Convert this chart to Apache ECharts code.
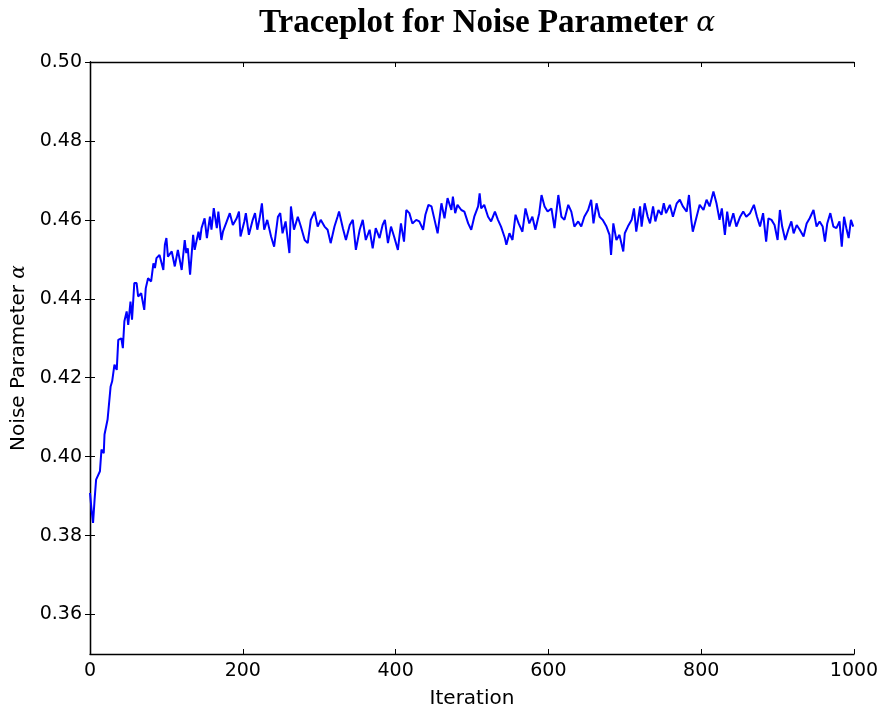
<!DOCTYPE html>
<html>
<head>
<meta charset="utf-8">
<script src="https://cdn.jsdelivr.net/npm/echarts@6/dist/echarts.min.js"></script>
<style>html,body{margin:0;padding:0;background:#fff}#c{width:882px;height:711px}</style>
</head>
<body>
<div id="c"></div>
<script>
const iterations = [0,2,4,6,8,13,15,18,19,23,27,29,32,35,37,41,43,45,48,50,53,55,58,61,63,67,71,73,76,80,83,85,87,91,96,98,100,102,107,111,115,120,124,126,128,131,135,137,142,144,146,150,153,157,159,162,166,168,172,174,179,183,187,192,
195,197,202,204,208,213,216,219,222,225,228,232,237,241,246,249,252,256,261,263,267,272,276,281,285,289,294,298,302,307,311,315,320,324,326,331,335,340,344,348,353,357,361,366,370,374,379,383,386,390,394,398,403,407,411,414,418,422,427,431,436,439,443,447,451,455,460,464,468,
473,475,478,481,486,490,495,499,503,508,510,512,516,521,525,530,534,538,543,545,549,553,557,561,566,570,575,579,583,588,591,595,599,604,608,613,617,621,626,630,634,639,643,647,652,656,659,663,667,671,676,680,682,685,689,693,698,700,704,709,712,715,
720,722,726,730,733,737,740,744,748,751,754,759,763,768,772,776,781,784,787,789,794,798,803,807,811,816,820,824,827,831,834,837,842,846,851,855,859,864,869,873,877,881,885,888,892,896,900,903,906,910,914,918,921,925,929,934,938,942,947,951,955,959,962,965,969,973,977,981,984,987,990,993,996,999];

const alpha = [0.3908,0.3866,0.3832,0.3891,0.3942,0.3963,0.4018,0.4009,0.4056,0.4094,0.4178,0.4191,0.4233,0.4220,0.4296,0.4300,0.4275,0.4343,0.4368,0.4334,0.4393,0.4347,0.4440,0.4440,0.4406,0.4414,0.4372,0.4427,0.4452,0.4444,0.4490,0.4478,0.4503,0.4511,0.4473,0.4537,0.4554,0.4507,0.4520,0.4482,0.4524,0.4473,0.4549,0.4516,0.4528,0.4461,0.4562,0.4524,0.4570,0.4549,0.4579,0.4604,0.4554,0.4608,0.4575,0.4630,0.4579,0.4621,0.4549,0.4570,0.4596,0.4617,0.4587,0.4604,
0.4621,0.4558,0.4596,0.4617,0.4562,0.4600,0.4617,0.4575,0.4604,0.4642,0.4575,0.4600,0.4558,0.4532,0.4608,0.4617,0.4566,0.4596,0.4516,0.4634,0.4575,0.4608,0.4583,0.4549,0.4541,0.4600,0.4621,0.4583,0.4600,0.4583,0.4575,0.4541,0.4583,0.4608,0.4621,0.4579,0.4549,0.4587,0.4600,0.4524,0.4575,0.4600,0.4549,0.4575,0.4528,0.4579,0.4554,0.4587,0.4600,0.4541,0.4583,0.4558,0.4524,0.4591,0.4545,0.4625,0.4617,0.4591,0.4600,0.4596,0.4575,0.4613,0.4638,0.4634,0.4600,0.4566,0.4642,0.4604,0.4655,
0.4625,0.4659,0.4617,0.4638,0.4625,0.4621,0.4591,0.4575,0.4608,0.4634,0.4667,0.4629,0.4638,0.4608,0.4596,0.4621,0.4600,0.4583,0.4554,0.4537,0.4566,0.4549,0.4613,0.4591,0.4570,0.4629,0.4591,0.4608,0.4575,0.4617,0.4663,0.4634,0.4621,0.4629,0.4579,0.4663,0.4608,0.4600,0.4638,0.4621,0.4583,0.4596,0.4583,0.4608,0.4625,0.4651,0.4591,0.4642,0.4608,0.4600,0.4583,0.4562,0.4511,0.4591,0.4549,0.4562,0.4520,0.4566,0.4583,0.4600,0.4629,0.4570,
0.4634,0.4583,0.4642,0.4608,0.4591,0.4634,0.4596,0.4625,0.4613,0.4642,0.4617,0.4638,0.4608,0.4642,0.4651,0.4634,0.4621,0.4663,0.4600,0.4570,0.4608,0.4638,0.4625,0.4651,0.4634,0.4672,0.4642,0.4600,0.4629,0.4562,0.4621,0.4583,0.4617,0.4583,0.4608,0.4621,0.4608,0.4617,0.4638,0.4608,0.4583,0.4617,0.4545,0.4604,0.4600,0.4587,0.4549,0.4625,0.4583,0.4549,0.4575,0.4596,0.4566,0.4587,0.4575,0.4558,0.4591,0.4604,0.4625,0.4583,0.4596,0.4583,0.4545,0.4591,0.4617,0.4583,0.4579,0.4596,0.4532,0.4608,0.4579,0.4554,0.4600,0.4583];

const xTicks = [0, 200, 400, 600, 800, 1000];
const yTicks = [0.36, 0.38, 0.40, 0.42, 0.44, 0.46, 0.48, 0.50];

const seriesData = iterations.map((it, i) => [it, alpha[i]]);

const chart = echarts.init(document.getElementById('c'), null, {renderer: 'canvas'});
const lineStyle = {color: '#000', width: 1.3};
const tickStyle = {show: true, inside: true, length: 5, lineStyle: {color: '#000', width: 1}};
const labelFont = {fontFamily: 'DejaVu Sans', fontSize: 19, color: '#000'};

chart.setOption({
  animation: false,
  backgroundColor: '#fff',
  title: {
    text: '{t|Traceplot for Noise Parameter }{a|α}',
    left: 254,
    top: 2,
    textStyle: {
      rich: {
        t: {fontFamily: 'Liberation Serif', fontWeight: 'bold', fontSize: 33, color: '#000'},
        a: {fontFamily: 'DejaVu Serif', fontStyle: 'italic', fontWeight: 'normal', fontSize: 28, color: '#000'}
      }
    }
  },
  grid: {left: 90, top: 62, width: 764, height: 592, containLabel: false, outerBoundsMode: 'none'},
  xAxis: [{
    type: 'value', min: 0, max: 1000, interval: 200,
    axisLine: {show: true, lineStyle: lineStyle},
    axisTick: Object.assign({customValues: xTicks}, tickStyle),
    splitLine: {show: false},
    axisLabel: Object.assign({customValues: xTicks, margin: 8, formatter: v => String(v)}, labelFont),
    name: 'Iteration', nameLocation: 'middle', nameGap: 35,
    nameTextStyle: {fontFamily: 'DejaVu Sans', fontSize: 20, color: '#000'}
  }, {
    type: 'value', position: 'top', min: 0, max: 1000, interval: 200,
    axisLine: {show: true, lineStyle: lineStyle},
    axisTick: Object.assign({customValues: xTicks}, tickStyle),
    axisLabel: {show: false}, splitLine: {show: false}
  }],
  yAxis: [{
    type: 'value', min: 0.35, max: 0.50,
    axisLine: {show: true, lineStyle: lineStyle},
    axisTick: Object.assign({customValues: yTicks}, tickStyle),
    splitLine: {show: false},
    axisLabel: Object.assign({customValues: yTicks, margin: 8, formatter: v => v.toFixed(2)}, labelFont),
    name: '{n|Noise Parameter }{a|α}', nameLocation: 'middle', nameGap: 58,
    nameTextStyle: {
      rich: {
        n: {fontFamily: 'DejaVu Sans', fontSize: 20, color: '#000'},
        a: {fontFamily: 'DejaVu Serif', fontStyle: 'italic', fontSize: 20, color: '#000'}
      }
    }
  }, {
    type: 'value', position: 'right', min: 0.35, max: 0.50,
    axisLine: {show: true, lineStyle: lineStyle},
    axisTick: Object.assign({customValues: yTicks}, tickStyle),
    axisLabel: {show: false}, splitLine: {show: false}
  }],
  series: [{
    type: 'line',
    data: seriesData,
    xAxisIndex: 0, yAxisIndex: 0,
    showSymbol: false,
    lineStyle: {color: '#0000ff', width: 2},
    itemStyle: {color: '#0000ff'}
  }]
});
</script>
</body>
</html>
